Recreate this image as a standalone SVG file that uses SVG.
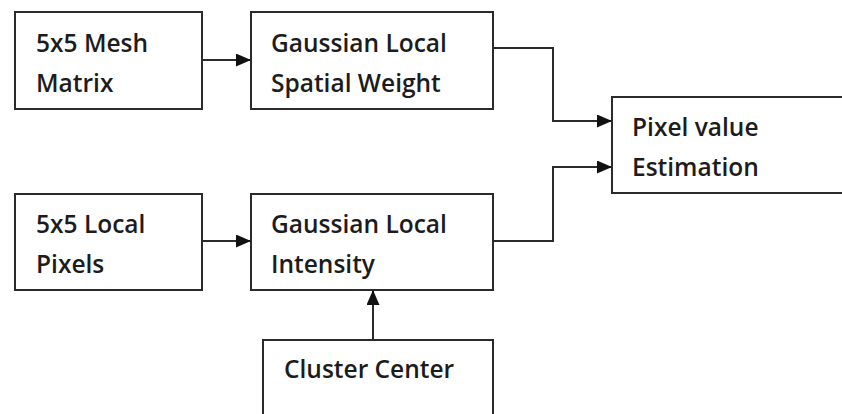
<svg xmlns="http://www.w3.org/2000/svg" width="842" height="414" viewBox="0 0 842 414">
<defs>
<style>
.box{fill:#fff;stroke:#2b2b2b;stroke-width:2}
.lbl{font-family:"Open Sans","Liberation Sans",sans-serif;font-weight:600;font-size:24.5px;fill:#1c1c1c}
.con{fill:none;stroke:#2b2b2b;stroke-width:2}
</style>
<marker id="ah" viewBox="0 0 15 13" refX="15" refY="6.5" markerWidth="15" markerHeight="13" markerUnits="userSpaceOnUse" orient="auto">
<path d="M0,0 L15,6.5 L0,13 Z" fill="#111"/>
</marker>
</defs>
<rect width="842" height="414" fill="#fff"/>
<g id="mesh">
<rect class="box" x="15" y="12" width="187" height="97"/>
<text class="lbl" x="36" y="52">5x5 Mesh</text>
<text class="lbl" x="36" y="92">Matrix</text>
</g>
<g id="spatial">
<rect class="box" x="251" y="12" width="242" height="97"/>
<text class="lbl" x="271" y="52">Gaussian Local</text>
<text class="lbl" x="271" y="92">Spatial Weight</text>
</g>
<g id="pixels">
<rect class="box" x="15" y="194" width="187" height="96"/>
<text class="lbl" x="36" y="233">5x5 Local</text>
<text class="lbl" x="36" y="273">Pixels</text>
</g>
<g id="intensity">
<rect class="box" x="251" y="194" width="242" height="96"/>
<text class="lbl" x="271" y="233">Gaussian Local</text>
<text class="lbl" x="271" y="273">Intensity</text>
</g>
<g id="cluster">
<rect class="box" x="263" y="340" width="230" height="90"/>
<text class="lbl" x="284" y="378">Cluster Center</text>
</g>
<g id="estimation">
<rect class="box" x="612" y="97" width="240" height="96"/>
<text class="lbl" x="632" y="136">Pixel value</text>
<text class="lbl" x="632" y="176">Estimation</text>
</g>
<g id="connectors">
<path class="con" d="M202,60 H251" marker-end="url(#ah)"/>
<path class="con" d="M202,241 H251" marker-end="url(#ah)"/>
<path class="con" d="M373,340 V290" marker-end="url(#ah)"/>
<path class="con" d="M493,48 H553 V121 H612" marker-end="url(#ah)"/>
<path class="con" d="M493,241 H553 V167 H612" marker-end="url(#ah)"/>
</g>
</svg>
